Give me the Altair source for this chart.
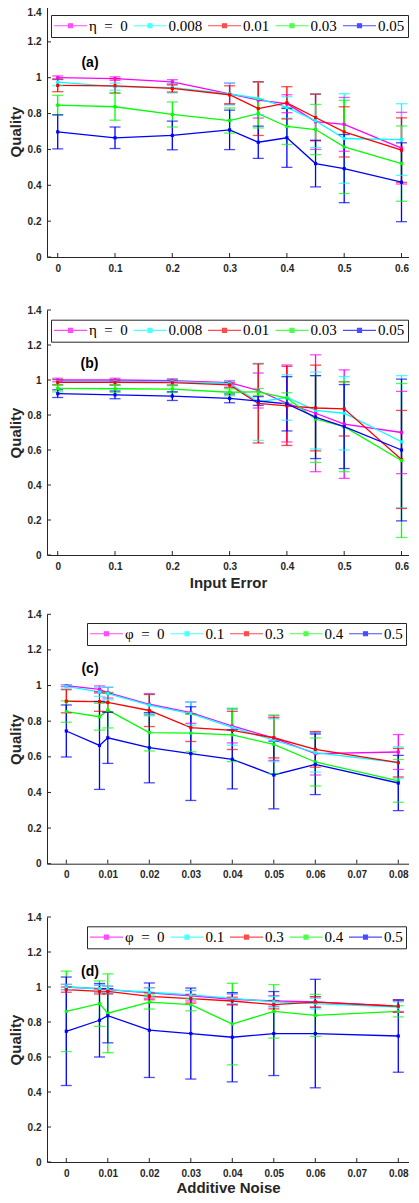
import altair as alt
import pandas as pd

COLORS = ["#ff00ff", "#00ffff", "#ff0000", "#00ff00", "#0000ff"]
AX = "#262626"

eta_names = ["η\u2002=\u20020", "0.008", "0.01", "0.03", "0.05"]
phi_names = ["φ\u2002=\u20020", "0.1", "0.3", "0.4", "0.5"]

x_ab = [0, 0.1, 0.2, 0.3, 0.35, 0.4, 0.45, 0.5, 0.6]
x_cd = [0, 0.008, 0.01, 0.02, 0.03, 0.04, 0.05, 0.06, 0.08]

y_ticks = [0, 0.2, 0.4, 0.6, 0.8, 1, 1.2, 1.4]
xt_ab = [0, 0.1, 0.2, 0.3, 0.4, 0.5, 0.6]
xt_cd = [0, 0.01, 0.02, 0.03, 0.04, 0.05, 0.06, 0.07, 0.08]

# ---- panel (a): Input Error ----
a_mean = [
    [1.0, 0.995, 0.977, 0.91, 0.875, 0.855, 0.755, 0.74, 0.607],
    [0.975, 0.95, 0.945, 0.91, 0.885, 0.834, 0.76, 0.661, 0.655],
    [0.957, 0.955, 0.94, 0.905, 0.828, 0.86, 0.778, 0.698, 0.596],
    [0.847, 0.838, 0.795, 0.761, 0.80, 0.728, 0.711, 0.614, 0.521],
    [0.698, 0.665, 0.678, 0.709, 0.64, 0.665, 0.521, 0.493, 0.417],
]
a_err = [
    [0.01, 0.01, 0.012, 0.06, 0.1, 0.05, 0.155, 0.15, 0.2],
    [0.02, 0.02, 0.03, 0.06, 0.09, 0.06, 0.15, 0.25, 0.2],
    [0.035, 0.04, 0.02, 0.05, 0.15, 0.09, 0.13, 0.14, 0.18],
    [0.055, 0.075, 0.07, 0.07, 0.08, 0.1, 0.14, 0.26, 0.21],
    [0.095, 0.06, 0.08, 0.11, 0.09, 0.165, 0.13, 0.19, 0.22],
]

# ---- panel (b): Input Error ----
b_mean = [
    [1.0, 1.0, 0.997, 0.985, 0.94, 0.866, 0.81, 0.748, 0.70],
    [0.99, 0.99, 0.99, 0.98, 0.875, 0.9, 0.826, 0.81, 0.647],
    [0.987, 0.986, 0.985, 0.972, 0.866, 0.852, 0.84, 0.835, 0.546],
    [0.952, 0.95, 0.948, 0.93, 0.932, 0.897, 0.777, 0.733, 0.54],
    [0.922, 0.915, 0.908, 0.895, 0.88, 0.864, 0.788, 0.734, 0.60],
]
b_err = [
    [0.01, 0.01, 0.01, 0.012, 0.1, 0.22, 0.334, 0.31, 0.235],
    [0.015, 0.015, 0.015, 0.015, 0.22, 0.13, 0.22, 0.21, 0.378],
    [0.015, 0.015, 0.015, 0.015, 0.226, 0.226, 0.245, 0.155, 0.28],
    [0.02, 0.02, 0.02, 0.02, 0.02, 0.03, 0.248, 0.257, 0.44],
    [0.022, 0.022, 0.025, 0.025, 0.025, 0.155, 0.237, 0.24, 0.405],
]

# ---- panel (c): Additive Noise ----
c_mean = [
    [1.0, 0.978, 0.96, 0.895, 0.848, 0.773, 0.705, 0.618, 0.627],
    [0.995, 0.964, 0.955, 0.89, 0.843, 0.765, 0.693, 0.624, 0.568],
    [0.912, 0.91, 0.905, 0.86, 0.764, 0.748, 0.707, 0.642, 0.567],
    [0.854, 0.825, 0.862, 0.736, 0.733, 0.723, 0.67, 0.571, 0.465],
    [0.745, 0.664, 0.707, 0.651, 0.618, 0.586, 0.498, 0.558, 0.453],
]
c_err = [
    [0.005, 0.02, 0.03, 0.06, 0.06, 0.095, 0.125, 0.12, 0.098],
    [0.01, 0.025, 0.035, 0.06, 0.065, 0.1, 0.12, 0.11, 0.088],
    [0.065, 0.055, 0.055, 0.09, 0.078, 0.107, 0.113, 0.1, 0.08],
    [0.06, 0.075, 0.1, 0.103, 0.105, 0.15, 0.165, 0.135, 0.12],
    [0.146, 0.247, 0.144, 0.197, 0.263, 0.166, 0.19, 0.17, 0.155],
]

# ---- panel (d): Additive Noise ----
d_mean = [
    [1.0, 0.99, 0.985, 0.966, 0.95, 0.93, 0.92, 0.915, 0.89],
    [1.0, 0.99, 0.985, 0.97, 0.955, 0.935, 0.915, 0.905, 0.885],
    [0.985, 0.975, 0.975, 0.947, 0.933, 0.92, 0.899, 0.914, 0.89],
    [0.861, 0.905, 0.85, 0.914, 0.899, 0.788, 0.861, 0.838, 0.861],
    [0.747, 0.81, 0.836, 0.753, 0.734, 0.713, 0.734, 0.734, 0.72],
]
d_err = [
    [0.015, 0.02, 0.02, 0.03, 0.03, 0.03, 0.03, 0.03, 0.03],
    [0.015, 0.02, 0.02, 0.025, 0.025, 0.03, 0.03, 0.03, 0.03],
    [0.015, 0.015, 0.015, 0.02, 0.025, 0.022, 0.024, 0.03, 0.035],
    [0.23, 0.13, 0.225, 0.04, 0.035, 0.233, 0.153, 0.12, 0.032],
    [0.31, 0.21, 0.155, 0.27, 0.26, 0.255, 0.24, 0.31, 0.207],
]


def long_df(xs, names, means, errs):
    rows = []
    for k, name in enumerate(names):
        for i, xv in enumerate(xs):
            m = means[k][i]
            e = errs[k][i]
            rows.append(dict(x=xv, series=name, k=k, mean=m, lo=m - e, hi=m + e))
    return pd.DataFrame(rows)


# legend glyph: a line with a small square marker in the middle
LEG_PATH = "M-1.25,0L4.25,0M1.17,-0.33L1.83,-0.33L1.83,0.33L1.17,0.33Z"
W = 362


def panel(df, names, xticks, xdom, height, yspan, tag, tag_pos, xtitle, leg_pos,
          shift_top=False, xtitle_pad=4):
    legend = alt.Legend(
        orient="none", legendX=leg_pos[0], legendY=leg_pos[1], direction="horizontal",
        title=None, symbolType=LEG_PATH, symbolSize=144, symbolStrokeWidth=1.2,
        labelFont="Liberation Serif", labelFontSize=15, labelColor="black",
        labelOffset=20, columnPadding=2.5, padding=3, strokeColor=AX,
        fillColor="white", labelLimit=200,
    )
    color = alt.Color("series:N", scale=alt.Scale(domain=names, range=COLORS), legend=legend)
    xscale = alt.Scale(domain=xdom, nice=False, zero=False)
    yscale = alt.Scale(domain=[0, 1.4], nice=False, zero=False, range=[height, height - yspan])
    if xtitle:
        xaxis = alt.Axis(values=xticks, format="~g", title=xtitle, titlePadding=xtitle_pad)
    else:
        xaxis = alt.Axis(values=xticks, format="~g", title=None)
    if shift_top:
        yaxis = alt.Axis(values=y_ticks, format="~g", title="Quality",
                         labelOffset={"condition": {"test": "datum.value == 1.4", "value": 6}, "value": 0})
    else:
        yaxis = alt.Axis(values=y_ticks, format="~g", title="Quality")
    x = alt.X("x:Q", scale=xscale, axis=xaxis)
    base = alt.Chart(df)
    lines = base.mark_line(strokeWidth=1.3).encode(
        x=x, y=alt.Y("mean:Q", scale=yscale, axis=yaxis), color=color, detail="k:O")
    rules = base.mark_rule(strokeWidth=1.3).encode(
        x=x, y=alt.Y("lo:Q", scale=yscale, axis=yaxis), y2="hi:Q", color=color)
    caps = base.transform_fold(["lo", "hi"], as_=["end", "val"]).mark_tick(
        orient="horizontal", size=11, thickness=1.3).encode(
        x=x, y=alt.Y("val:Q", scale=yscale, axis=yaxis), color=color)
    pts = base.mark_square(size=10, opacity=1, filled=True).encode(
        x=x, y=alt.Y("mean:Q", scale=yscale, axis=yaxis), color=color)
    ytick_df = pd.DataFrame({"v": y_ticks})
    yt = alt.Chart(ytick_df).mark_rule(color=AX, strokeWidth=1).encode(
        y=alt.Y("v:Q", scale=yscale, axis=yaxis), x=alt.value(0), x2=alt.value(4))
    xtick_df = pd.DataFrame({"x": xticks})
    xt = alt.Chart(xtick_df).mark_rule(color=AX, strokeWidth=1).encode(
        x=x, y=alt.value(height), y2=alt.value(height - 4))
    lab = alt.Chart(pd.DataFrame({"t": [tag]})).mark_text(
        font="Liberation Sans", fontWeight="bold", fontSize=14, color="black",
        align="center", baseline="middle").encode(
        text="t:N", x=alt.value(tag_pos[0]), y=alt.value(tag_pos[1]))
    return alt.layer(xt, yt, lines, rules, caps, pts, lab).properties(width=W, height=height)


dfa = long_df(x_ab, eta_names, a_mean, a_err)
dfb = long_df(x_ab, eta_names, b_mean, b_err)
dfc = long_df(x_cd, phi_names, c_mean, c_err)
dfd = long_df(x_cd, phi_names, d_mean, d_err)

dom_ab = [-0.0187, 0.6131]
dom_cd = [-0.00465, 0.08258]

SP = 53
pa = panel(dfa, eta_names, xt_ab, dom_ab, 251, 251, "(a)", (43, 57), None, (4, 9), shift_top=True)
pb = panel(dfb, eta_names, xt_ab, dom_ab, 245, 245, "(b)", (42.5, 54), "Input Error", (4, 9.7))
pc = panel(dfc, phi_names, xt_cd, dom_cd, 255.7, 249.4, "(c)", (43, 61.3), None, (40, 15))
pd_ = panel(dfd, phi_names, xt_cd, dom_cd, 245, 245, "(d)", (43, 55), "Additive Noise", (40, 9.3),
            xtitle_pad=2)

chart = alt.vconcat(pa, pb, pc, pd_, spacing=SP, bounds="flush").resolve_scale(
    x="independent", y="independent", color="independent"
).resolve_legend(color="independent").properties(
    padding={"left": 0, "top": -3, "right": 0, "bottom": 0}
).configure_view(stroke=None).configure_axis(
    labelFont="Liberation Sans", labelFontWeight="bold", labelFontSize=10, labelColor=AX,
    domainColor=AX, domainWidth=1, ticks=False, tickSize=0, grid=False,
    titleFont="Liberation Sans", titleFontSize=15, titleFontWeight="bold", titleColor=AX,
    labelPadding=6, titlePadding=4,
)

chart.save("out.html", embed_options={"renderer": "svg", "actions": False})
